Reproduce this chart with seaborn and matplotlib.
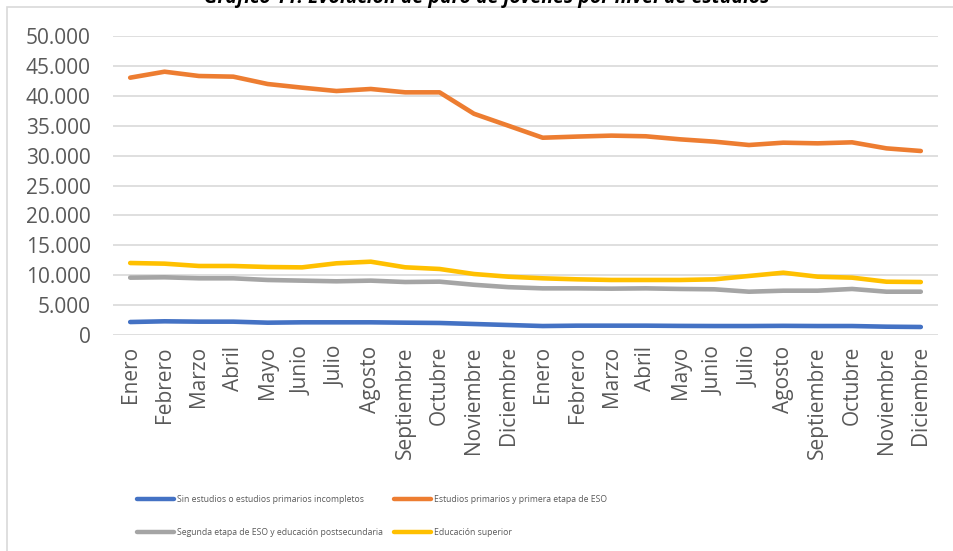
import matplotlib
matplotlib.use("Agg")
import matplotlib.pyplot as plt
import seaborn as sns
import pandas as pd
import numpy as np
from matplotlib import font_manager as fm
from matplotlib.patches import Rectangle

months = ["Enero", "Febrero", "Marzo", "Abril", "Mayo", "Junio", "Julio",
          "Agosto", "Septiembre", "Octubre", "Noviembre", "Diciembre"]
categories = months + months

sin_estudios = [2170, 2290, 2230, 2230, 2060, 2120, 2120, 2120, 2060, 2010, 1840, 1670,
                1500, 1560, 1560, 1560, 1520, 1500, 1500, 1530, 1500, 1500, 1390, 1340]
primarios_eso1 = [43030, 44030, 43310, 43200, 41970, 41360, 40800, 41140, 40580, 40580, 37000, 35000,
                  32990, 33180, 33340, 33230, 32720, 32330, 31770, 32160, 32050, 32220, 31210, 30770]
eso2_postsec = [9590, 9650, 9480, 9480, 9200, 9090, 8980, 9090, 8860, 8920, 8400, 8000,
                7800, 7800, 7750, 7800, 7700, 7640, 7240, 7410, 7410, 7700, 7240, 7240]
superior = [12040, 11930, 11540, 11540, 11370, 11310, 11990, 12260, 11320, 11040, 10200, 9750,
            9480, 9310, 9200, 9200, 9200, 9310, 9870, 10420, 9750, 9590, 8910, 8860]

series_names = ["Sin estudios o estudios primarios incompletos",
                "Estudios primarios y primera etapa de ESO",
                "Segunda etapa de ESO y educación postsecundaria",
                "Educación superior"]
series_values = [sin_estudios, primarios_eso1, eso2_postsec, superior]
colors = ["#4472C4", "#ED7D31", "#A5A5A5", "#FFC000"]
yticks = [0, 5000, 10000, 15000, 20000, 25000, 30000, 35000, 40000, 45000, 50000]
ytick_labels = ["0", "5.000", "10.000", "15.000", "20.000", "25.000", "30.000",
                "35.000", "40.000", "45.000", "50.000"]
title = "Gráfico 11. Evolución de paro de jóvenes por nivel de estudios"

rows = []
for name, vals in zip(series_names, series_values):
    for i, v in enumerate(vals):
        rows.append({"idx": i, "valor": v, "serie": name})
df = pd.DataFrame(rows)

sns.set_theme(style="white")
avail = {f.name for f in fm.fontManager.ttflist}
main_font = "Open Sans" if "Open Sans" in avail else "DejaVu Sans"
leg_font = "Liberation Sans Narrow" if "Liberation Sans Narrow" in avail else main_font
plt.rcParams["font.family"] = [main_font, "DejaVu Sans"]

W, H = 954, 551
fig = plt.figure(figsize=(W / 100, H / 100), dpi=100)
ax = fig.add_axes([113 / W, (H - 335) / H, (938 - 113) / W, 299 / H])

sns.lineplot(data=df, x="idx", y="valor", hue="serie", hue_order=series_names,
             palette=colors, linewidth=3.3, sort=False, legend=False, ax=ax,
             solid_capstyle="round")

ax.set_xlim(-0.5, len(categories) - 0.5)
ax.set_ylim(0, 50000)
ax.set_yticks(yticks)
ax.set_yticklabels(ytick_labels)
ax.set_xticks(range(len(categories)))
ax.set_xticklabels(categories, rotation=90)
ax.tick_params(axis="y", length=0, pad=16, labelsize=15, labelcolor="#595959")
ax.tick_params(axis="x", length=0, pad=8, labelsize=15, labelcolor="#595959")
ax.set_xlabel("")
ax.set_ylabel("")
for s in ax.spines.values():
    s.set_visible(False)
ax.yaxis.grid(True, color="#D9D9D9", linewidth=1.2)
ax.set_axisbelow(True)

# chart border
fig.patches.append(Rectangle((7 / W, -0.01), 1.0, (H - 7) / H + 0.01, transform=fig.transFigure,
                             fill=False, edgecolor="#D9D9D9", linewidth=1.2))

# title, clipped at the top edge as in the reference
fig.text(487 / W, 1 - 3 / H, title, ha="center", va="baseline", fontsize=14,
         fontweight="bold", fontstyle="italic", color="#000000")

handles = [plt.Line2D([], [], color=c, linewidth=3.2, solid_capstyle="round") for c in colors]
order = [0, 2, 1, 3]
leg = fig.legend([handles[i] for i in order], [series_names[i] for i in order],
                 ncol=2, loc="upper left", bbox_to_anchor=(137 / W, 1 - 495 / H),
                 frameon=False, prop={"family": leg_font, "size": 6.2},
                 handlelength=4.3, handletextpad=0.35, columnspacing=1.3,
                 labelspacing=2.75, borderaxespad=0, borderpad=0)
for t in leg.get_texts():
    t.set_color("#595959")

fig.savefig("out.png", dpi=100)
